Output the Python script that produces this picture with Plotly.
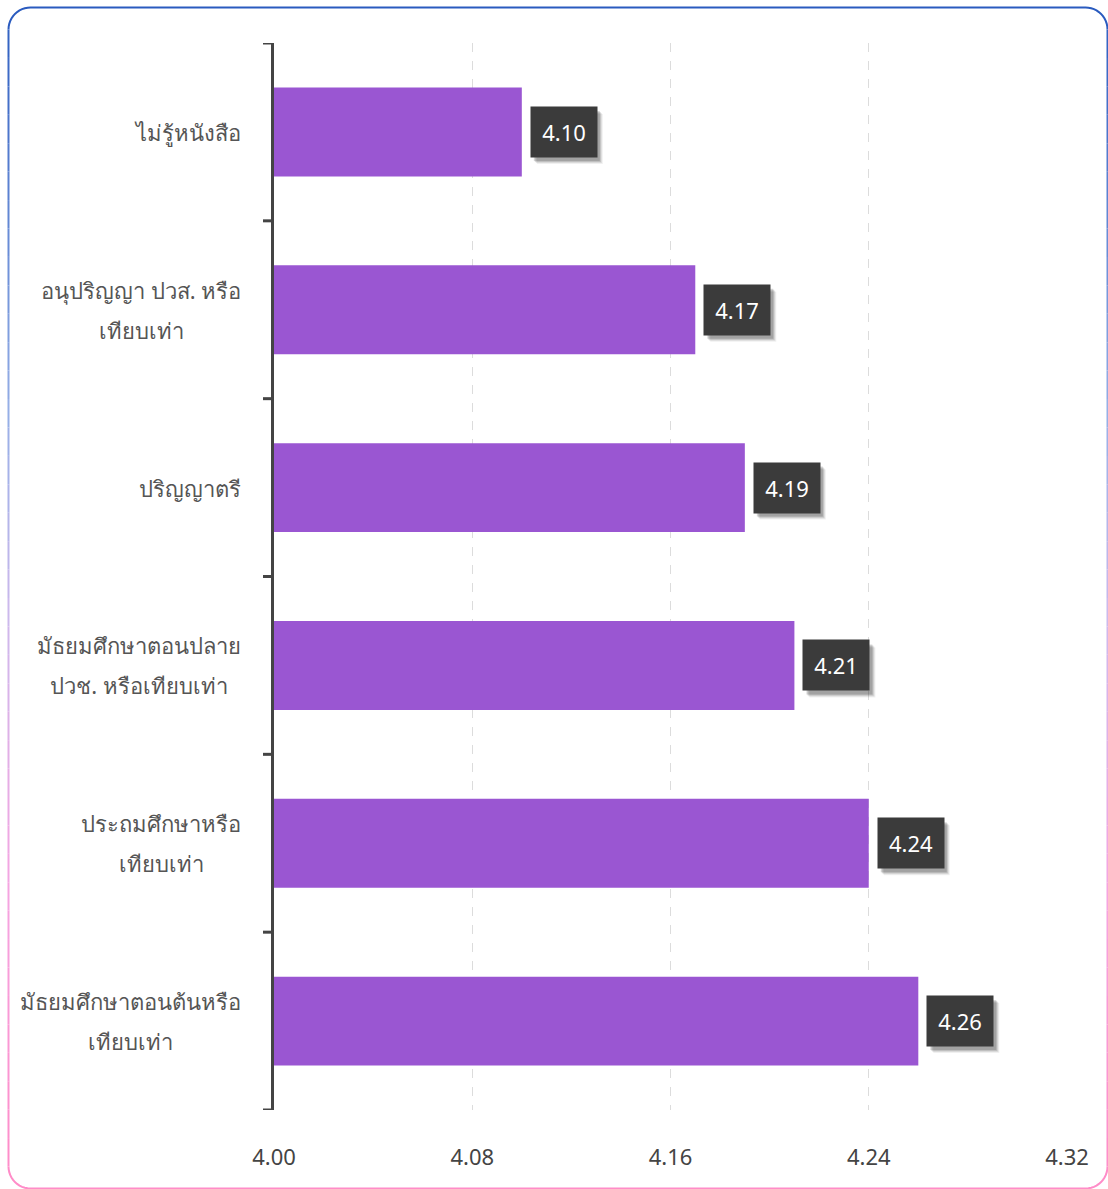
import math
import plotly.graph_objects as go

# Education levels and their mean scores
categories = [
    "ไม่รู้หนังสือ",
    "อนุปริญญา ปวส. หรือ<br>เทียบเท่า",
    "ปริญญาตรี",
    "มัธยมศึกษาตอนปลาย<br>ปวช. หรือเทียบเท่า",
    "ประถมศึกษาหรือ<br>เทียบเท่า",
    "มัธยมศึกษาตอนต้นหรือ<br>เทียบเท่า",
]
scores = [4.10, 4.17, 4.19, 4.21, 4.24, 4.26]
x_ticks = [4.00, 4.08, 4.16, 4.24, 4.32]
x_tick_labels = ["4.00", "4.08", "4.16", "4.24", "4.32"]

W, H = 1108, 1189
ML, MR, MT, MB = 274, 41, 43, 79
PW, PH = W - ML - MR, H - MT - MB

FONT = "Noto Sans, Open Sans, DejaVu Sans, sans-serif"
BAR_COLOR = "#9a56d2"
AXIS_COLOR = "#444444"
LABEL_COLOR = "#555555"
LABEL_SIZE = 22
# the annotation font size sets the spacing between wrapped lines (1.3 em)
LABEL_LINE_SIZE = 31


def px_x(px):
    return (px - ML) / PW


def px_y(py):
    return (H - MB - py) / PH


def sized(text, size):
    return "<br>".join(f"<span style='font-size:{size}px'>{part}</span>"
                       for part in text.split("<br>"))


fig = go.Figure()
fig.add_trace(go.Bar(
    x=scores,
    y=list(range(len(categories))),
    orientation="h",
    width=0.5,
    marker=dict(color=BAR_COLOR, line=dict(width=0)),
    hoverinfo="skip",
))

annotations = []
shapes = []

# Category labels: centred multi-line text, right edge near the axis
for i, cat in enumerate(categories):
    multi = "<br>" in cat
    annotations.append(dict(
        x=px_x(243), xref="paper", xanchor="right",
        y=i, yref="y", yanchor="middle",
        text=sized(cat, LABEL_SIZE) if multi else cat,
        showarrow=False, align="center",
        font=dict(family=FONT, size=LABEL_LINE_SIZE if multi else LABEL_SIZE,
                  color=LABEL_COLOR),
    ))

# Value labels: soft drop shadow (pixel-sized shapes) under a dark box
BOX_W, BOX_H, GAP = 66, 50, 8
for i, v in enumerate(scores):
    for off, op in [(7, 0.06), (6, 0.09), (5, 0.12), (4, 0.15)]:
        shapes.append(dict(
            type="rect", xref="x", yref="y",
            xsizemode="pixel", ysizemode="pixel",
            xanchor=v, yanchor=i,
            x0=GAP + off, x1=GAP + BOX_W + off,
            y0=-BOX_H / 2 - off, y1=BOX_H / 2 - off,
            fillcolor=f"rgba(0,0,0,{op})", line=dict(width=0), layer="above",
        ))
    annotations.append(dict(
        x=v, xref="x", xanchor="left", xshift=GAP,
        y=i, yref="y", yanchor="middle",
        text=f"{v:.2f}", showarrow=False,
        width=BOX_W, height=BOX_H, align="center", valign="middle",
        font=dict(family=FONT, size=22, color="#ffffff"),
        bgcolor="#3b3b3b", borderpad=0,
    ))

# Rounded outer frame with a vertical blue-to-pink gradient
stops = [
    (0.00, (42, 91, 191)),
    (0.35, (150, 175, 230)),
    (0.52, (205, 185, 236)),
    (0.75, (245, 165, 225)),
    (1.00, (255, 140, 200)),
]


def grad(t):
    t = min(max(t, 0.0), 1.0)
    for (t0, c0), (t1, c1) in zip(stops[:-1], stops[1:]):
        if t <= t1:
            f = (t - t0) / (t1 - t0) if t1 > t0 else 0
            c = [round(a + (b - a) * f) for a, b in zip(c0, c1)]
            return f"rgb({c[0]},{c[1]},{c[2]})"
    c = stops[-1][1]
    return f"rgb({c[0]},{c[1]},{c[2]})"


FX0, FY0, FX1, FY1, R = 8.5, 7.5, 1107.5, 1188.5, 22


def seg_path(points):
    d = f"M {px_x(points[0][0])},{px_y(points[0][1])}"
    for p in points[1:]:
        d += f" L {px_x(p[0])},{px_y(p[1])}"
    return d


def arc_points(cx, cy, a0, a1, n=12):
    return [(cx + R * math.cos(math.radians(a0 + (a1 - a0) * k / n)),
             cy + R * math.sin(math.radians(a0 + (a1 - a0) * k / n))) for k in range(n + 1)]


top = arc_points(FX0 + R, FY0 + R, 180, 270) + arc_points(FX1 - R, FY0 + R, 270, 360)
bottom = arc_points(FX1 - R, FY1 - R, 0, 90) + arc_points(FX0 + R, FY1 - R, 90, 180)
shapes.append(dict(type="path", xref="paper", yref="paper", path=seg_path(top),
                   line=dict(color=grad(0), width=2), layer="above"))
shapes.append(dict(type="path", xref="paper", yref="paper", path=seg_path(bottom),
                   line=dict(color=grad(1), width=2), layer="above"))
N = 40
ys = [FY0 + R + (FY1 - FY0 - 2 * R) * k / N for k in range(N + 1)]
for k in range(N):
    col = grad((ys[k] + ys[k + 1]) / 2 / (FY1 - FY0))
    for xx in (FX0, FX1):
        shapes.append(dict(type="line", xref="paper", yref="paper",
                           x0=px_x(xx), x1=px_x(xx), y0=px_y(ys[k]), y1=px_y(ys[k + 1]),
                           line=dict(color=col, width=2), layer="above"))

# Boundary ticks on the category axis
for b in range(len(categories) + 1):
    yb = b - 0.5
    shapes.append(dict(type="line", xref="paper", yref="y",
                       x0=px_x(263), x1=px_x(274), y0=yb, y1=yb,
                       line=dict(color=AXIS_COLOR, width=3), layer="above"))

fig.update_layout(
    width=W, height=H,
    margin=dict(l=ML, r=MR, t=MT, b=MB, pad=0),
    paper_bgcolor="white", plot_bgcolor="white",
    showlegend=False, bargap=0.5,
    font=dict(family=FONT, size=22, color=AXIS_COLOR),
    annotations=annotations, shapes=shapes,
    xaxis=dict(
        range=[4.00, 4.32], tickvals=x_ticks, ticktext=x_tick_labels,
        showgrid=True, gridcolor="#dcdcdc", griddash="dash", gridwidth=1,
        zeroline=False, showline=False,
        ticks="outside", ticklen=28, tickcolor="rgba(0,0,0,0)",
        tickfont=dict(family=FONT, size=22, color=AXIS_COLOR),
    ),
    yaxis=dict(
        range=[len(categories) - 0.5, -0.5],
        tickvals=list(range(len(categories))), ticktext=[""] * len(categories),
        showgrid=False, zeroline=False,
        showline=True, linecolor=AXIS_COLOR, linewidth=3,
    ),
)

fig.write_html("out.html")
